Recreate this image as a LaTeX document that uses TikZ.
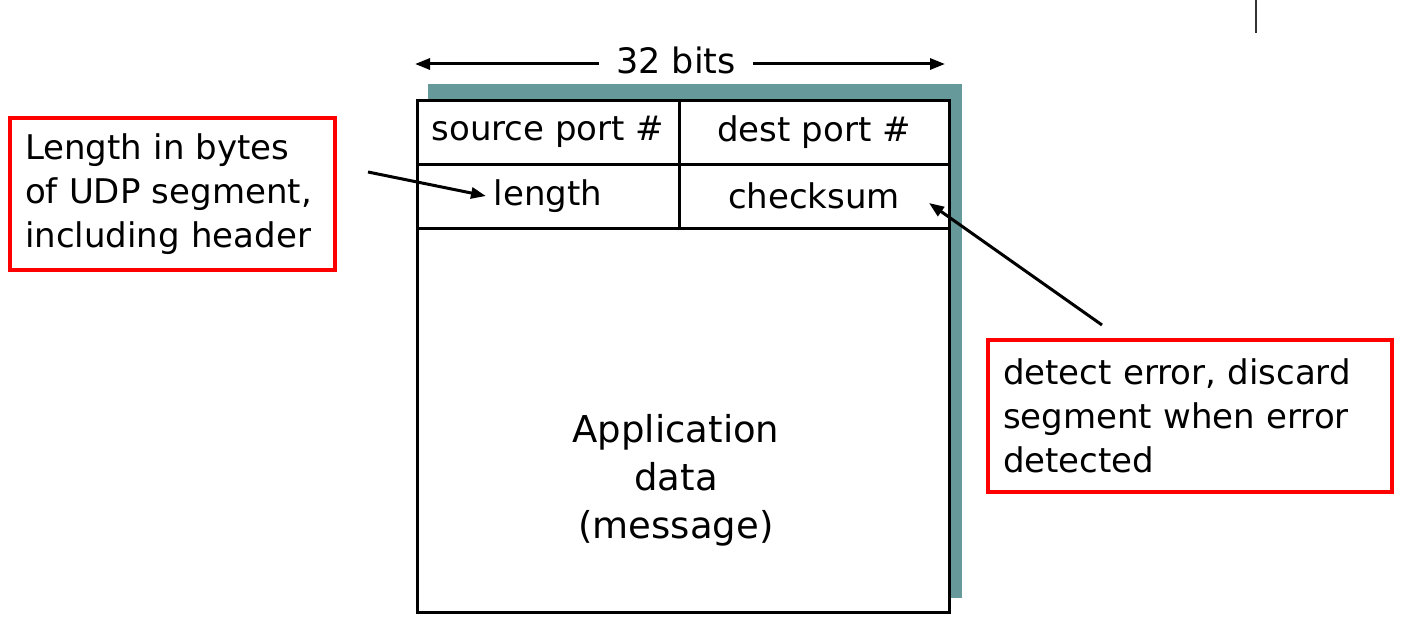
\documentclass[tikz,border=0pt]{standalone}
\usepackage{fontspec}
\setmainfont{DejaVu Sans}
\usetikzlibrary{arrows.meta}
\definecolor{shadowteal}{RGB}{102,153,153}
\tikzset{
  cell/.style={draw=black, line width=3pt, fill=white, inner sep=0pt, outer sep=0pt, anchor=north west,
    font=\fontsize{34}{44}\selectfont},
  note/.style={draw=red, line width=4pt, fill=white, align=left, inner xsep=15pt, inner ysep=0pt,
    minimum height=152pt, font=\fontsize{34}{44}\selectfont},
  arr/.style={line width=3pt, -{Triangle[length=15pt,width=11pt]}},
}
\begin{document}
\begin{tikzpicture}[x=1pt,y=-1pt]
\useasboundingbox (0,0) rectangle (1426,634);
% shadow
\fill[shadowteal] (428,84) rectangle (962,598);
% cells
\node[cell, minimum width=532pt, minimum height=384pt] (data) at (417,228) {};
\node[cell, minimum width=262pt, minimum height=64pt] (src) at (417,100) {source port \#};
\node[cell, minimum width=270pt, minimum height=64pt] (dst) at (679,100) {dest port \#};
\node[cell, minimum width=262pt, minimum height=64pt] (len) at (417,164) {length};
\node[cell, minimum width=270pt, minimum height=64pt] (chk) at (679,164) {checksum};
\node[align=center, font=\fontsize{37}{48}\selectfont] (appdata) at (676,480) {Application\\data\\(message)};
% 32 bits
\node[font=\fontsize{35}{44}\selectfont, inner xsep=17pt, inner ysep=0pt] (bits) at (676,60) {32 bits};
\coordinate (bl) at (415,64);
\coordinate (br) at (945,64);
\draw[arr] (bits.west |- bl) -- (bl);
\draw[arr] (bits.east |- br) -- (br);
% notes
\node[note, text width=295pt] (lnote) at (172.5,194) {Length in bytes\\of UDP segment,\\including header};
\node[note, text width=374pt] (cnote) at (1190,416) {detect error, discard\\segment when error\\detected};
% pointer arrows
\coordinate (a1s) at (368,172);
\coordinate (a1e) at (486,196);
\draw[arr] (a1s) -- (a1e);
\coordinate (a2s) at (1102,325);
\coordinate (a2e) at (929,203);
\draw[arr] (a2s) -- (a2e);
% vertical mark
\coordinate (vt) at (1256,0);
\coordinate (vb) at (1256,33);
\draw[line width=2pt, black!80] (vt) -- (vb);
\end{tikzpicture}
\end{document}
